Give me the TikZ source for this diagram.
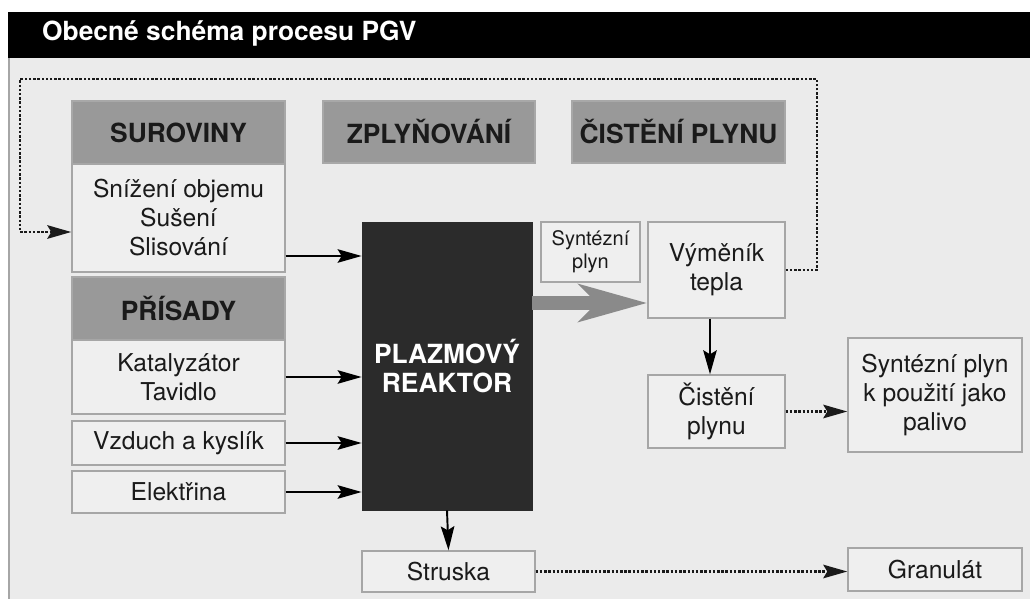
\documentclass[tikz,border=0pt]{standalone}
\usepackage{fontspec}
\setmainfont{TeX Gyre Heros}
\usepackage{xcolor}
\definecolor{pgink}{HTML}{1A1A1A}
\definecolor{pgbg}{HTML}{EBEBEB}
\definecolor{pgpanel}{HTML}{EFEFEF}
\definecolor{pgrule}{HTML}{A6A6A6}
\definecolor{pghead}{HTML}{999999}
\definecolor{pgdark}{HTML}{2B2B2B}
\definecolor{pgflow}{HTML}{8A8A8A}
\usepackage{tikz}
\usetikzlibrary{arrows.meta}
\tikzset{
  pgbox/.style   ={rectangle, draw=pgrule, fill=pgpanel, line width=0.8pt,
                   inner sep=0pt, align=center, text=pgink,
                   font=\fontsize{14}{16.5}\selectfont},
  pghdr/.style   ={rectangle, draw=pghead!85!white, fill=pghead, line width=0.6pt,
                   inner sep=0pt, align=center, text=pgink,
                   font=\fontsize{15}{17}\selectfont\bfseries},
  pgsmall/.style ={pgbox, font=\fontsize{11.4}{13}\selectfont},
  pgreact/.style ={rectangle, draw=pgdark, fill=pgdark, inner sep=0pt,
                   align=center, text=white,
                   font=\fontsize{15}{16.5}\selectfont\bfseries},
  pgarrow/.style ={-{Stealth[length=0.48cm,width=0.27cm,inset=0.08cm]},
                   line width=1.1pt, draw=black},
  pgdot/.style   ={-{Stealth[length=0.48cm,width=0.27cm,inset=0.08cm]},
                   line width=1.3pt, draw=pgink, dash pattern=on 1.4pt off 1pt},
  pgbig/.style   ={-{Stealth[length=1.36cm,width=0.74cm,inset=0.36cm]},
                   line width=0.28cm, draw=pgflow},
}

\begin{document}
\begin{tikzpicture}
  \useasboundingbox (0,0) rectangle (20.6,-11.98);
  % frame and title bar
  \fill[pgbg] (0.16,-1.16) rectangle (20.6,-11.98);
  \draw[pgrule, line width=1.2pt] (0.18,-1.16) -- (0.18,-11.98);
  \fill[black] (0.16,-0.24) rectangle (20.6,-1.16);
  \node[anchor=west, text=white, font=\fontsize{15}{17}\selectfont\bfseries]
    (title) at (0.72,-0.66) {Obecné schéma procesu PGV};
  % column headers
  \node[pghdr, minimum width=4.26cm, minimum height=1.26cm] (surh) at (3.57,-2.65) {SUROVINY};
  \node[pghdr, minimum width=4.24cm, minimum height=1.24cm] (zplh) at (8.58,-2.64) {ZPLYŇOVÁNÍ};
  \node[pghdr, minimum width=4.26cm, minimum height=1.24cm] (cish) at (13.57,-2.64) {ČISTĚNÍ PLYNU};
  % inputs
  \node[pgbox, minimum width=4.26cm, minimum height=2.16cm] (surb) at (3.57,-4.36)
    {Snížení objemu\\Sušení\\Slisování};
  \node[pghdr, minimum width=4.26cm, minimum height=1.26cm] (prih) at (3.57,-6.17) {PŘÍSADY};
  \node[pgbox, minimum width=4.26cm, minimum height=1.48cm] (prib) at (3.57,-7.54)
    {Katalyzátor\\Tavidlo};
  \node[pgbox, minimum width=4.26cm, minimum height=0.88cm] (vzd) at (3.57,-8.86) {Vzduch a kyslík};
  \node[pgbox, minimum width=4.26cm, minimum height=0.84cm] (ele) at (3.57,-9.84) {Elektřina};
  % reactor and products
  \node[pgreact, minimum width=3.4cm, minimum height=5.76cm] (rk) at (8.94,-7.32)
    {PLAZMOVÝ\\REAKTOR};
  \node[pgsmall, minimum width=1.98cm, minimum height=1.2cm] (syn) at (11.81,-5.04)
    {Syntézní\\plyn};
  \node[pgbox, minimum width=2.74cm, minimum height=1.92cm] (vym) at (14.33,-5.4)
    {Výměník\\tepla};
  \node[pgbox, minimum width=2.74cm, minimum height=1.46cm] (cis) at (14.33,-8.23)
    {Čistění\\plynu};
  \node[pgbox, minimum width=3.48cm, minimum height=2.28cm] (pal) at (18.7,-7.9)
    {Syntézní plyn\\k použití jako\\palivo};
  \node[pgbox, minimum width=3.46cm, minimum height=0.82cm] (stru) at (8.97,-11.43) {Struska};
  \node[pgbox, minimum width=3.48cm, minimum height=0.86cm] (gran) at (18.7,-11.39) {Granulát};
  % flows
  \draw[pgarrow] ([yshift=-0.76cm]surb.east) -- ([yshift=-0.76cm]surb.east -| rk.west);
  \draw[pgarrow] (prib.east) -- (prib.east -| rk.west);
  \draw[pgarrow] (vzd.east) -- (vzd.east -| rk.west);
  \draw[pgarrow] (ele.east) -- (ele.east -| rk.west);
  \draw[pgarrow] (rk.south) -- (stru.north);
  \draw[pgbig] ([yshift=-0.66cm]vym.west -| rk.east) -- ([yshift=-0.66cm]vym.west);
  \draw[pgarrow] ([xshift=-0.13cm]vym.south) -- ([xshift=-0.13cm]cis.north);
  \draw[pgdot] (cis.east) -- (cis.east -| pal.west);
  \draw[pgdot] (stru.east) -- (stru.east -| gran.west);
  % heat recycled to feedstock
  \coordinate (fbR) at (16.34,-1.58);
  \coordinate (fbL) at (0.4,-1.58);
  \draw[pgdot] (vym.east) -| (fbR) -- (fbL) |- ([yshift=-0.28cm]surb.west);
\end{tikzpicture}
\end{document}
